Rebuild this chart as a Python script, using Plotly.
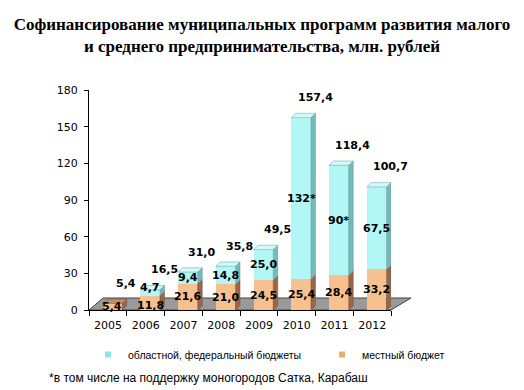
import plotly.graph_objects as go

# ---------------- data ----------------
years = ["2005", "2006", "2007", "2008", "2009", "2010", "2011", "2012"]
local_budget = [5.4, 11.8, 21.6, 21.0, 24.5, 25.4, 28.4, 33.2]
regional_budget = [0.0, 4.7, 9.4, 14.8, 25.0, 132.0, 90.0, 67.5]
totals = [5.4, 16.5, 31.0, 35.8, 49.5, 157.4, 118.4, 100.7]
regional_labels = ["", "4,7", "9,4", "14,8", "25,0", "132*", "90*", "67,5"]
local_labels = ["5,4", "11,8", "21,6", "21,0", "24,5", "25,4", "28,4", "33,2"]
total_labels = ["5,4", "16,5", "31,0", "35,8", "49,5", "157,4", "118,4", "100,7"]
y_ticks = [0, 30, 60, 90, 120, 150, 180]

series_names = ["областной, федеральный бюджеты", "местный бюджет"]
title_text = ("Софинансирование муниципальных программ развития малого<br>"
              "и среднего предпринимательства, млн. рублей")
footnote = "*в том числе на поддержку моногородов Сатка, Карабаш"

# ---------------- geometry (page pixels; page body has an 8px margin) ----------------
PAGE_W, PAGE_H = 524, 390
OFF = 8
W, H = PAGE_W - OFF, PAGE_H - OFF
PLOT_L, PLOT_T, PLOT_R, PLOT_B = 89, 90, 391, 310      # page pixels
ML, MT = PLOT_L - OFF, PLOT_T - OFF
MR, MB = PAGE_W - PLOT_R, PAGE_H - PLOT_B
plot_w = PLOT_R - PLOT_L
plot_h = PLOT_B - PLOT_T
Y_MAX = 180.0
px_per_unit = plot_h / Y_MAX


def px_x(p):
    return (p - PLOT_L) / plot_w


def px_y(p):
    return (PLOT_B - p) / plot_h


BAR_W, BAR_OFF = 0.52, -0.14   # bar width / offset in category units
DX, DY = 0.12, 3.5             # pseudo-3D depth (category units, data units)

C_REG = dict(front="#b2f6f6", side="#76b9b9", top="#d2fafa", edge="#5d9c9c")
C_LOC = dict(front="#f6c18f", side="#9a664a", top="#c98c60", edge="#7a5036")
FLOOR = "#9a9a9a"
LABEL_FONT = dict(family="DejaVu Sans", size=11, color="#000000", weight="bold")

fig = go.Figure()

fig.add_trace(go.Bar(
    x=years, y=local_budget, name=series_names[1], showlegend=False,
    width=BAR_W, offset=BAR_OFF,
    marker=dict(color=C_LOC["front"], line=dict(width=0)),
    hoverinfo="x+y",
))
fig.add_trace(go.Bar(
    x=years, y=regional_budget, name=series_names[0], showlegend=False,
    width=BAR_W, offset=BAR_OFF,
    marker=dict(color=C_REG["front"], line=dict(width=0)),
    hoverinfo="x+y",
))

# legend entries (small square markers as in the original)
fig.add_trace(go.Scatter(
    x=[None], y=[None], mode="markers", name=series_names[0], legend="legend",
    marker=dict(symbol="square", size=6, color="#8fe6e6"),
))
fig.add_trace(go.Scatter(
    x=[None], y=[None], mode="markers", name=series_names[1], legend="legend2",
    marker=dict(symbol="square", size=6, color="#f2aa72"),
))

shapes = []
fdx_l, fdx_r, fdy = 14 / plot_w, 20 / plot_w, 12 / plot_h
shapes.append(dict(
    type="path", xref="paper", yref="paper", layer="below",
    path=f"M 0,0 L 1,0 L {1 + fdx_r},{fdy} L {fdx_l},{fdy} Z",
    fillcolor=FLOOR, line=dict(color="#444444", width=1),
))


def side_and_top(i, base, top, col, with_top):
    x0 = i + BAR_OFF
    x1 = x0 + BAR_W
    out = [dict(
        type="path", xref="x", yref="y", layer="above",
        path=(f"M {x1},{base} L {x1 + DX},{base + DY} "
              f"L {x1 + DX},{top + DY} L {x1},{top} Z"),
        fillcolor=col["side"], line=dict(color=col["edge"], width=0.5),
    )]
    if with_top:
        out.append(dict(
            type="path", xref="x", yref="y", layer="above",
            path=(f"M {x0},{top} L {x1},{top} L {x1 + DX},{top + DY} "
                  f"L {x0 + DX},{top + DY} Z"),
            fillcolor=col["top"], line=dict(color=col["edge"], width=0.5),
        ))
    return out


MIN_GAP_PX = 18
annotations = []
for i in range(len(years)):
    loc = local_budget[i]
    reg = regional_budget[i]
    tot = totals[i]
    shapes += side_and_top(i, 0, loc, C_LOC, reg == 0)
    if reg > 0:
        shapes += side_and_top(i, loc, loc + reg, C_REG, True)
    xc = i + BAR_OFF + BAR_W / 2
    loc_y, reg_y = loc / 2, loc + reg / 2
    gap_px = (reg_y - loc_y) * px_per_unit
    push = max(0.0, MIN_GAP_PX - gap_px) if reg > 0 else 0.0
    annotations.append(dict(x=xc, y=loc_y, xref="x", yref="y", text=local_labels[i],
                            showarrow=False, font=LABEL_FONT, yshift=-push / 3))
    if regional_labels[i]:
        annotations.append(dict(x=xc, y=reg_y, xref="x", yref="y",
                                text=regional_labels[i], showarrow=False,
                                font=LABEL_FONT, yshift=push * 2 / 3))
    annotations.append(dict(x=xc, y=tot, xref="x", yref="y", text=total_labels[i],
                            showarrow=False, font=LABEL_FONT, xshift=14, yshift=20))

annotations.append(dict(
    x=px_x(47), y=px_y(378), xref="paper", yref="paper",
    xanchor="left", yanchor="middle", text=footnote, showarrow=False,
    font=dict(family="Liberation Sans", size=12, color="#000000"),
))

legend_font = dict(family="Liberation Sans", size=10.5, color="#000000")
fig.update_layout(
    width=W, height=H,
    margin=dict(l=ML, r=MR, t=MT, b=MB),
    paper_bgcolor="#ffffff", plot_bgcolor="rgba(0,0,0,0)",
    barmode="stack", bargap=0.3,
    title=dict(text=title_text, x=(262 - OFF) / W, xanchor="center", xref="container",
               y=1 - 22 / H, yanchor="top", yref="container",
               font=dict(family="Liberation Serif", size=17, color="#000000",
                         weight="bold")),
    shapes=shapes,
    annotations=annotations,
    showlegend=True,
    legend=dict(orientation="h", x=px_x(88), xanchor="left",
                y=px_y(340), yanchor="top", font=legend_font,
                bgcolor="rgba(0,0,0,0)", itemclick=False, traceorder="normal"),
    legend2=dict(orientation="h", x=px_x(322), xanchor="left",
                 y=px_y(340), yanchor="top", font=legend_font,
                 bgcolor="rgba(0,0,0,0)", itemclick=False, traceorder="normal"),
    xaxis=dict(type="category", range=[-0.5, 7.5], tickson="boundaries",
               ticks="outside", ticklen=5, tickcolor="#000000",
               showline=True, linecolor="#000000", linewidth=1,
               showgrid=False, zeroline=False, ticklabelstandoff=5,
               tickfont=dict(family="DejaVu Sans", size=11, color="#000000")),
    yaxis=dict(range=[0, Y_MAX], tickvals=y_ticks, ticks="outside", ticklen=4,
               tickcolor="#000000", showline=True, linecolor="#000000", linewidth=1,
               showgrid=False, zeroline=False, ticklabelstandoff=4,
               tickfont=dict(family="DejaVu Sans", size=11, color="#000000")),
)

fig.write_html("out.html")
